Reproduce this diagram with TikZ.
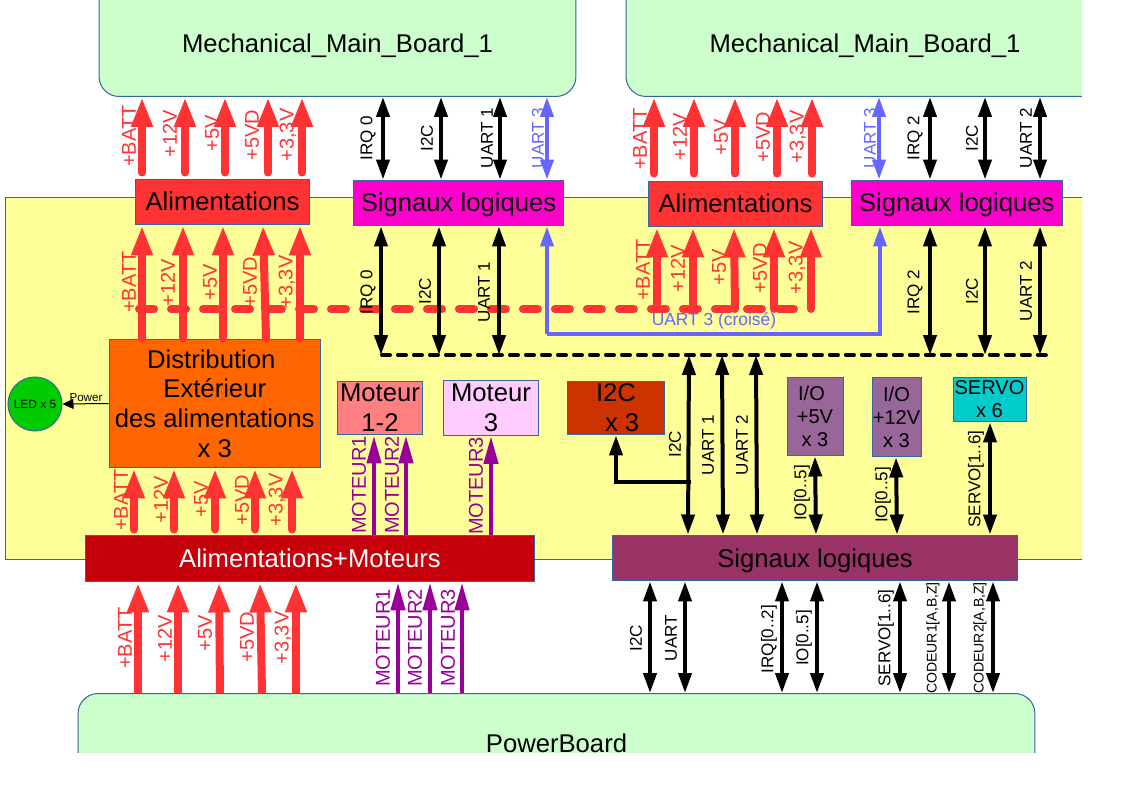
\documentclass[tikz,border=0pt]{standalone}
\usepackage{fontspec}
\setmainfont{Liberation Sans}
\usetikzlibrary{arrows.meta}
\definecolor{edgeblue}{HTML}{3465A4}
\definecolor{boardgreen}{HTML}{CCFFCC}
\definecolor{cardyellow}{HTML}{FFFF99}
\definecolor{pwrred}{HTML}{FF3333}
\definecolor{sigmagenta}{HTML}{FF00CC}
\definecolor{distorange}{HTML}{FF6600}
\definecolor{ledgreen}{HTML}{00CC00}
\definecolor{motsalmon}{HTML}{FF8080}
\definecolor{motpink}{HTML}{FFCCFF}
\definecolor{brick}{HTML}{CC3300}
\definecolor{iomauve}{HTML}{996699}
\definecolor{servocyan}{HTML}{00CCCC}
\definecolor{darkred}{HTML}{C5000B}
\definecolor{plum}{HTML}{993366}
\definecolor{motpurple}{HTML}{990099}
\definecolor{uartblue}{HTML}{6666FF}
\tikzset{
  box/.style={draw=edgeblue,line width=0.02cm,inner sep=0pt,align=center,font=\fontsize{14.6}{16.9}\selectfont},
  onebox/.style={box,text height=0.46cm,text depth=0.1cm},
  smallbox/.style={box,font=\fontsize{11.4}{13.1}\selectfont},
  board/.style={box,fill=boardgreen,rounded corners=0.4cm},
  pwrline/.style={line width=0.16cm,pwrred,line cap=round,-{Triangle[length=0.6cm,width=0.4cm]}},
  motline/.style={line width=0.09cm,motpurple,-{Triangle[length=0.56cm,width=0.28cm]}},
  sigline/.style={line width=0.08cm,black,{Triangle[length=0.4cm,width=0.26cm]}-{Triangle[length=0.4cm,width=0.26cm]}},
  upline/.style={line width=0.08cm,-{Triangle[length=0.4cm,width=0.26cm]}},
  pwrlabel/.style={rotate=90,inner sep=0pt,pwrred,font=\fontsize{11.4}{13}\selectfont},
  motlabel/.style={pwrlabel,motpurple},
  siglabel/.style={rotate=90,inner sep=0pt,font=\fontsize{9.7}{11}\selectfont},
}

\begin{document}
\begin{tikzpicture}[x=0.02cm,y=-0.02cm]
    \useasboundingbox (0,0) rectangle (1123,794);
    \clip (0,0) rectangle (1082,752);

    \node[box,fill=cardyellow,minimum width=22.3cm,minimum height=7.26cm] (card) at (562.5,378.5) {};
    \node[board,anchor=south,minimum width=9.54cm,text height=2.26cm,text depth=0.88cm] (mainA) at (337.5,97) {Mechanical\_Main\_Board\_1};
    \node[board,anchor=south,minimum width=9.56cm,text height=2.26cm,text depth=0.88cm] (mainB) at (865,97) {Mechanical\_Main\_Board\_1};
    \node[board,anchor=north,minimum width=19.14cm,text height=1.18cm,text depth=1.2cm] (power) at (556.5,693) {PowerBoard};

    \node[onebox,fill=pwrred,minimum width=3.5cm,minimum height=0.92cm] (alimA) at (222.5,202) {Alimentations};
    \node[onebox,fill=sigmagenta,minimum width=4.22cm,minimum height=0.92cm] (sigA) at (458.5,203) {Signaux logiques};
    \node[onebox,fill=pwrred,minimum width=3.5cm,minimum height=0.92cm] (alimB) at (735.5,204) {Alimentations};
    \node[onebox,fill=sigmagenta,minimum width=4.21cm,minimum height=0.92cm] (sigB) at (956.8,203) {Signaux logiques};
    \node[box,fill=distorange,minimum width=4.23cm,minimum height=2.58cm] (distrib) at (214.75,403.5) {Distribution\hspace*{4pt}\\Extérieur\\des alimentations\\x 3};
    \node[circle,draw=edgeblue,line width=0.02cm,fill=ledgreen,inner sep=0pt,minimum size=1.08cm,font=\fontsize{6.8}{8}\selectfont] (led) at (35,404) {LED x 5};
    \node[box,fill=motsalmon,minimum width=1.7cm,minimum height=1.08cm] (motA) at (380,408) {Moteur\\1-2};
    \node[box,fill=motpink,minimum width=1.92cm,minimum height=1.1cm] (motB) at (491,408) {Moteur\\3};
    \node[box,fill=brick,minimum width=1.96cm,minimum height=1.08cm] (i2cbox) at (616,408) {I2C\\\hspace*{7pt}x 3};
    \node[smallbox,fill=iomauve,minimum width=1.12cm,minimum height=1.58cm] (ioA) at (815,416.5) {I/O\hspace*{4pt}\\+5V\\x 3};
    \node[smallbox,fill=iomauve,minimum width=0.98cm,minimum height=1.6cm] (ioB) at (896.5,417) {I/O\\+12V\\x 3};
    \node[smallbox,fill=servocyan,minimum width=1.46cm,minimum height=0.9cm] (servo) at (989.5,399.5) {SERVO\\x 6};
    \node[onebox,fill=darkred,text=white,minimum width=9cm,minimum height=0.94cm] (alimM) at (310,558.5) {Alimentations+Moteurs};
    \node[onebox,fill=plum,minimum width=8.12cm,minimum height=0.92cm] (sigC) at (815,558) {Signaux logiques};

    \coordinate (pwrbusL) at (139,309);
    \coordinate (pwrbusR) at (794,309);
    \coordinate (busL) at (382,355);
    \coordinate (busR) at (1046,355);
    \coordinate (i2ctap) at (691,482);
    \coordinate (uartlow) at (547,334);

    \draw[pwrred,line width=0.16cm,line cap=round,dash pattern=on 0.3cm off 0.34cm] (pwrbusL) -- (pwrbusR);
    \draw[line width=0.08cm,line cap=round,dash pattern=on 0.16cm off 0.16cm] (busL) -- (busR);

    \foreach[count=\i] \nb/\nh/\sh/\xb/\xh/\txt/\lx/\ly in {
        alimA.north/mainA.south/0.12/142/142/+BATT/129/136,
        alimA.north/mainA.south/0.12/185/185/+12V/170/134,
        alimA.north/mainA.south/0.12/225/225/+5V/212/133,
        alimA.north/mainA.south/0.12/268/268/+5VD/252/135,
        alimA.north/mainA.south/0.12/302/302/{+3,3V}/288/135,
        distrib.north/alimA.south/0/142/142/+BATT/129/282,
        distrib.north/alimA.south/0/183/183/+12V/168/283,
        distrib.north/alimA.south/0/223/223/+5V/210/282,
        distrib.north/alimA.south/0/266/263/+5VD/250/282,
        distrib.north/alimA.south/0/300/300/{+3,3V}/287/282,
        alimB.north/mainB.south/0.14/654/654/+BATT/640/139,
        alimB.north/mainB.south/0.14/694/694/+12V/680/137,
        alimB.north/mainB.south/0.14/735/735/+5V/721/137,
        alimB.north/mainB.south/0.14/777/777/+5VD/763/137,
        alimB.north/mainB.south/0.14/812/812/{+3,3V}/798/137,
        pwrbusL/alimB.south/0/657/657/+BATT/643/270,
        pwrbusL/alimB.south/0/693/693/+12V/678/269,
        pwrbusL/alimB.south/0/735/734/+5V/719/267,
        pwrbusL/alimB.south/0/774/774/+5VD/760/268,
        pwrbusL/alimB.south/0/811/811/{+3,3V}/797/268,
        alimM.north/distrib.south/0.1/134/134/+BATT/121/500,
        alimM.north/distrib.south/0.1/174/174/+12V/161/500,
        alimM.north/distrib.south/0.1/215/215/+5V/201/499,
        alimM.north/distrib.south/0.1/255/255/+5VD/242/500,
        alimM.north/distrib.south/0.1/292/292/{+3,3V}/277/500} {
        \draw[pwrline,shorten <=\sh cm] (\xb,0 |- \nb) -- (\xh,0 |- \nh);
        \node[pwrlabel] (pwrlab\i) at (\lx,\ly) {\txt};
    }
    \foreach[count=\i] \xb/\xh/\txt/\lx/\ly in {138/138/+BATT/125/638,178/178/+12V/165/639,220/219/+5V/205/633,262/260/+5VD/247/637,296/296/{+3,3V}/283/638} {
        \draw[pwrline,line cap=butt] (\xb,0 |- power.north) -- (\xh,0 |- alimM.south);
        \node[pwrlabel] (powerlab\i) at (\lx,\ly) {\txt};
    }

    \foreach[count=\i] \nb/\nh/\x/\txt/\lx/\ly in {
        alimM.north/motA.south/374/MOTEUR1/359/485,
        alimM.north/motA.south/406/MOTEUR2/392/485,
        alimM.north/motB.south/491/MOTEUR3/476/486,
        power.north/alimM.south/398/MOTEUR1/383/638,
        power.north/alimM.south/430/MOTEUR2/415/638,
        power.north/alimM.south/462/MOTEUR3/448/638} {
        \draw[motline] (\x,0 |- \nb) -- (\x,0 |- \nh);
        \node[motlabel] (motlab\i) at (\lx,\ly) {\txt};
    }

    \foreach[count=\i] \nb/\nh/\xb/\xh/\txt/\lx/\ly in {
        sigA.north/mainA.south/383/383/IRQ 0/368/138,
        sigA.north/mainA.south/441/441/I2C/427/138,
        sigA.north/mainA.south/500/500/UART 1/487/138,
        busL/sigA.south/381/381/IRQ 0/368/292,
        busL/sigA.south/439/439/I2C/425/291,
        busL/sigA.south/499/499/UART 1/484/292,
        sigB.north/mainB.south/930/930/IRQ 2/915/138,
        sigB.north/mainB.south/985/985/I2C/972/138,
        sigB.north/mainB.south/1040/1040/UART 2/1026/138,
        busL/sigB.south/930/930/IRQ 2/915/292,
        busL/sigB.south/985/985/I2C/972/291,
        busL/sigB.south/1040/1040/UART 2/1026/291,
        sigC.north/busL/688/689/I2C/675/444,
        sigC.north/busL/723/722/UART 1/708/445,
        sigC.north/busL/757/756/UART 2/742/445,
        sigC.north/ioA.south/816/815/IO[0..5]/802/493,
        sigC.north/ioB.south/897/896/IO[0..5]/883/495,
        sigC.north/servo.south/990/990/SERVO[1..6]/976/479,
        power.north/sigC.south/650/650/I2C/636/638,
        power.north/sigC.south/685/685/UART/671/638,
        power.north/sigC.south/782/782/IRQ[0..2]/769/639,
        power.north/sigC.south/817/817/IO[0..5]/804/638,
        power.north/sigC.south/900/900/SERVO[1..6]/886/638} {
        \draw[sigline] (\xb,0 |- \nb) -- (\xh,0 |- \nh);
        \node[siglabel] (siglab\i) at (\lx,\ly) {\txt};
    }
    \draw[sigline] (949,0 |- power.north) -- (949,0 |- sigC.south);
    \node[siglabel,font=\fontsize{8}{9}\selectfont] (codeurA) at (933,638) {CODEUR1[A,B,Z]};
    \draw[sigline] (993,0 |- power.north) -- (993,0 |- sigC.south);
    \node[siglabel,font=\fontsize{8}{9}\selectfont] (codeurB) at (980,638) {CODEUR2[A,B,Z]};

    \draw[upline] (i2ctap) -| (i2cbox.south);

    \draw[sigline,uartblue] (547,0 |- sigA.north) -- (547,0 |- mainA.south);
    \node[siglabel,text=uartblue] (uartA) at (538,138) {UART 3};
    \draw[sigline,uartblue] (879,0 |- sigB.north) -- (879,0 |- mainB.south);
    \node[siglabel,text=uartblue] (uartB) at (870,138) {UART 3};
    \draw[upline,uartblue] (uartlow) -- (547,0 |- sigA.south);
    \draw[upline,uartblue] (uartlow) -- (880,0 |- uartlow) -- (880,0 |- sigB.south);
    \node[text=uartblue,inner sep=0pt,font=\fontsize{9.9}{12}\selectfont] (uartcross) at (714,321) {UART 3 (croisé)};

    \draw[line width=0.02cm,-{Triangle[length=0.22cm,width=0.2cm]}] (distrib.west) -- (led.east);
    \node[inner sep=0pt,font=\fontsize{6.6}{8}\selectfont] (powerlink) at (86,398) {Power};
\end{tikzpicture}
\end{document}
